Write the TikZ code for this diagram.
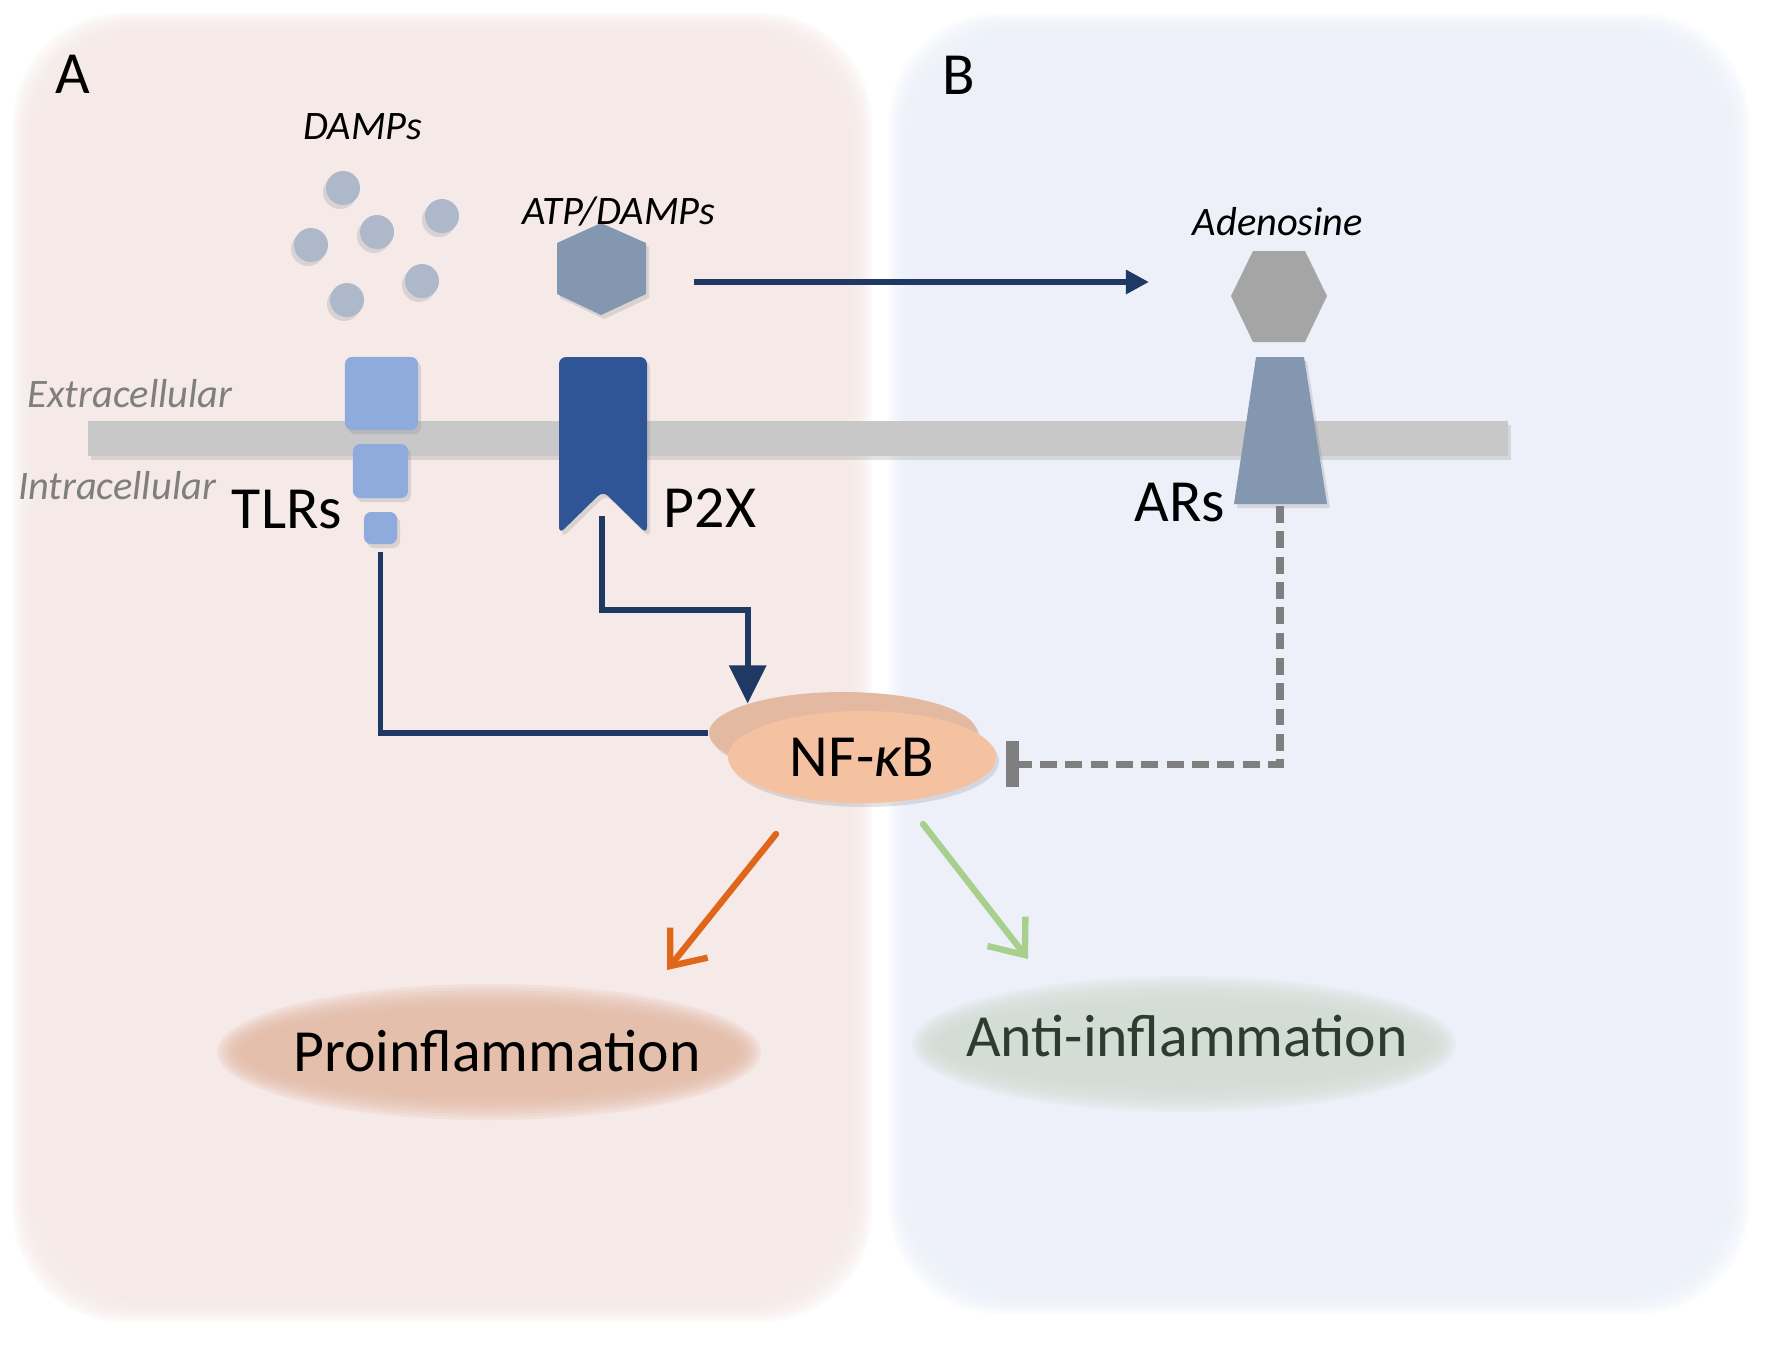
\documentclass[tikz,border=0pt]{standalone}
\usepackage{fontspec}
\setmainfont{Carlito}
\usetikzlibrary{arrows.meta,shapes.geometric,shadows,positioning}

\definecolor{panelA}{HTML}{F4E8E6}
\definecolor{panelB}{HTML}{EBEFF8}
\definecolor{damp}{HTML}{ADB9CA}
\definecolor{slate}{HTML}{8497B0}
\definecolor{adeno}{HTML}{A5A5A5}
\definecolor{tlr}{HTML}{8FAADC}
\definecolor{ptwox}{HTML}{2F5597}
\definecolor{navy}{HTML}{203864}
\definecolor{memb}{HTML}{C8C8C8}
\definecolor{nfkbback}{HTML}{E4B9A1}
\definecolor{nfkbfront}{HTML}{F4C1A1}
\definecolor{proinfl}{HTML}{E4BCA6}
\definecolor{antiinfl}{HTML}{D3DDD4}
\definecolor{antitext}{HTML}{2F3B2F}
\definecolor{orangearr}{HTML}{E0661A}
\definecolor{greenarr}{HTML}{A6D08C}
\definecolor{inhib}{HTML}{7F7F7F}

\begin{document}
\begin{tikzpicture}[x=0.01cm, y=-0.01cm,
    lbl/.style={font=\fontsize{17}{20}\selectfont, anchor=base, inner sep=0},
    ital/.style={font=\fontsize{11.5}{14}\selectfont\itshape, anchor=base, inner sep=0},
    softshadow/.style={drop shadow={opacity=0.22, shadow xshift=0.03cm, shadow yshift=-0.04cm}},
    navyline/.style={navy, line width=1.7pt},
    tlrbox/.style={fill=tlr, rounded corners=2pt, inner sep=0, softshadow},
    inhibline/.style={inhib, line width=2pt, dash pattern=on 4.8pt off 2.4pt},
    outarrow/.style={line width=1.8pt, line cap=round, -{Straight Barb[length=0.3cm, width=0.48cm]}}]
  \useasboundingbox (0,0) rectangle (1772,1347);
  % panels
  \foreach \d in {0,2,...,24}
    \fill[panelA, opacity=0.18, rounded corners=1.1cm] (13+\d,13+\d) rectangle (872-\d,1322-\d);
  \foreach \d in {0,2,...,24}
    \fill[panelB, opacity=0.18, rounded corners=1.1cm] (888+\d,13+\d) rectangle (1750-\d,1314-\d);
  \node[lbl] (pA) at (73,93) {A};
  \node[lbl] (pB) at (959,94) {B};
  % membrane
  \fill[memb, softshadow] (88,421) rectangle (1508,456);
  \node[ital, text=inhib] (extra) at (130,407) {Extracellular};
  \node[ital, text=inhib] (intra) at (117,499) {Intracellular};
  % DAMPs
  \node[ital] (damps) at (363,139) {DAMPs};
  \foreach \x/\y in {343/188, 442/216, 377/232, 311/245, 422/281, 347/300}
    \fill[damp, drop shadow={opacity=0.22, shadow xshift=-0.03cm, shadow yshift=-0.04cm}] (\x,\y) circle (17);
  % TLRs
  \node[tlrbox, minimum width=0.73cm, minimum height=0.73cm] (tlr1) at (381.5,393.5) {};
  \node[tlrbox, minimum width=0.55cm, minimum height=0.54cm] (tlr2) at (380.5,471) {};
  \node[tlrbox, minimum width=0.33cm, minimum height=0.32cm] (tlr3) at (380.5,528) {};
  \node[lbl] (tlrs) at (287,528) {TLRs};
  % ATP and P2X
  \fill[slate, softshadow] (601,223) -- (646,243) -- (646,294) -- (601,315) -- (557,294) -- (557,243) -- cycle;
  \node[ital] (atp) at (619,224) {ATP/DAMPs};
  \fill[ptwox, softshadow, rounded corners=2pt] (559,534) -- (559,357) -- (647,357) -- (647,534) -- (603,491) -- cycle;
  \node[lbl] (p2x) at (710,527) {P2X};
  \coordinate (p2xout) at (602,516);
  \coordinate (atpout) at (694,282);
  \coordinate (adoin) at (1149,282);
  % adenosine and ARs
  \node[ital] (adenosine) at (1278,235) {Adenosine};
  \fill[adeno] (1253,251) -- (1305,251) -- (1327,296) -- (1305,342) -- (1253,342) -- (1231,296) -- cycle;
  \fill[slate, softshadow] (1256,357) -- (1304,357) -- (1327,504) -- (1234,504) -- cycle;
  \node[lbl] (ars) at (1180,521) {ARs};
  \coordinate (arsout) at (1280,506);
  % NF-kB
  \node[ellipse, fill=nfkbback, minimum width=2.68cm, minimum height=0.82cm, inner sep=0, softshadow] (nfback) at (843,733) {};
  \node[ellipse, fill=nfkbfront, minimum width=2.68cm, minimum height=0.92cm, inner sep=0, softshadow,
        font=\fontsize{17}{20}\selectfont] (nfkb) at (862,757) {NF-{\itshape κ}B};
  % connectors
  \draw[navyline, -{Triangle[length=0.23cm, width=0.23cm]}] (atpout) -- (adoin);
  \draw[navyline, shorten <=0.07cm] (tlr3.south) |- (nfback.west);
  \draw[navyline, -{Triangle[length=0.38cm, width=0.36cm]}] (p2xout) -- ++(0,94) -| (nfback.north west);
  \draw[inhibline, -{Bar[width=0.46cm, line width=0.13cm]}] (arsout) |- ([xshift=0.09cm, yshift=-0.07cm]nfkb.east);
  % outcomes
  \coordinate (proc) at (489,1052);
  \coordinate (antic) at (1184,1044);
  \foreach \d in {0,3,...,27}
    \fill[proinfl, opacity=0.2] (proc) ellipse ({272-\d} and {68-\d});
  \foreach \d in {0,3,...,27}
    \fill[antiinfl, opacity=0.2] (antic) ellipse ({272-\d} and {68-\d});
  \node[lbl] (proinf) at (497,1071) {Proinflammation};
  \node[lbl, text=antitext] (antiinf) at (1187,1056) {Anti-inflammation};
  \coordinate (profrom) at (776,834);
  \coordinate (proto) at (667,970);
  \coordinate (antifrom) at (923,824);
  \coordinate (antito) at (1028,959);
  \draw[outarrow, orangearr] (profrom) -- (proto);
  \draw[outarrow, greenarr] (antifrom) -- (antito);
\end{tikzpicture}
\end{document}
